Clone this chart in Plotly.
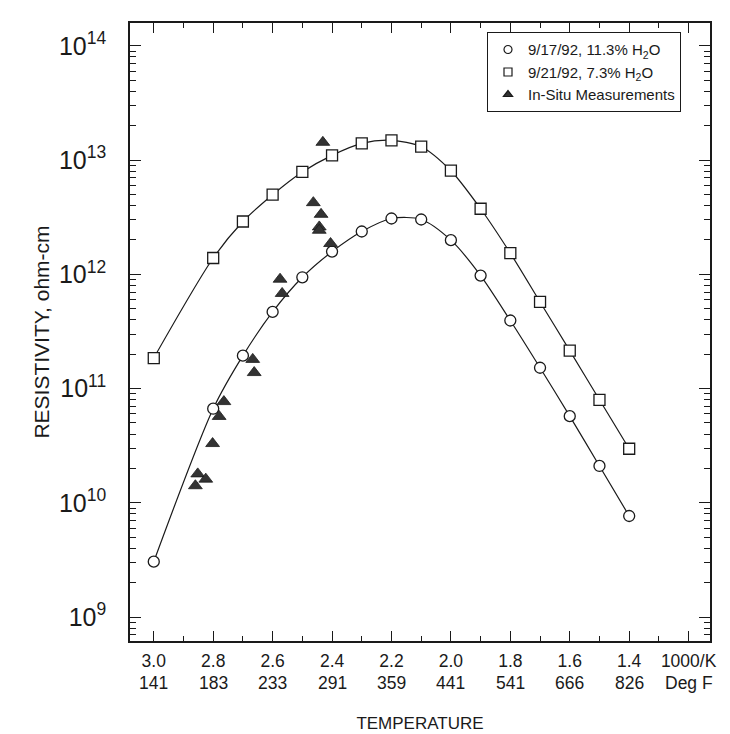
import plotly.graph_objects as go

# ---- data ----
inv_temp = [3.0, 2.8, 2.7, 2.6, 2.5, 2.4, 2.3, 2.2, 2.1, 2.0, 1.9, 1.8, 1.7, 1.6, 1.5, 1.4]
res_0917 = [3.05e9, 6.66e10, 1.94e11, 4.69e11, 9.42e11, 1.58e12, 2.37e12, 3.08e12,
            3.02e12, 1.99e12, 9.75e11, 3.94e11, 1.52e11, 5.73e10, 2.10e10, 7.66e9]
res_0921 = [1.85e11, 1.39e12, 2.90e12, 4.98e12, 7.87e12, 1.10e13, 1.40e13, 1.49e13,
            1.31e13, 8.07e12, 3.75e12, 1.53e12, 5.73e11, 2.15e11, 7.97e10, 2.97e10]
insitu_x = [2.431, 2.463, 2.437, 2.443, 2.443, 2.405, 2.575, 2.568, 2.667, 2.662,
            2.764, 2.780, 2.802, 2.852, 2.825, 2.860]
insitu_y = [1.43e13, 4.24e12, 3.35e12, 2.60e12, 2.43e12, 1.86e12, 9.06e11, 6.80e11,
            1.80e11, 1.38e11, 7.69e10, 5.70e10, 3.30e10, 1.79e10, 1.61e10, 1.41e10]

tick_vals = [3.0, 2.8, 2.6, 2.4, 2.2, 2.0, 1.8, 1.6, 1.4, 1.2]
tick_k = ["3.0", "2.8", "2.6", "2.4", "2.2", "2.0", "1.8", "1.6", "1.4", "1000/K"]
tick_f = ["141", "183", "233", "291", "359", "441", "541", "666", "826", "Deg F"]

names = ["9/17/92, 11.3% H<sub>2</sub>O", "9/21/92, 7.3% H<sub>2</sub>O", "In-Situ Measurements"]

INK = "#1a1a1a"
FONT = "Arial, Liberation Sans, sans-serif"

fig = go.Figure()

fig.add_trace(go.Scatter(
    x=inv_temp, y=res_0917, mode="lines+markers", showlegend=False,
    line=dict(color=INK, width=1.2, shape="spline", smoothing=0.8),
    marker=dict(symbol="circle", size=11, color="white", line=dict(color=INK, width=1.3)),
))
fig.add_trace(go.Scatter(
    x=inv_temp, y=res_0921, mode="lines+markers", showlegend=False,
    line=dict(color=INK, width=1.2, shape="spline", smoothing=0.8),
    marker=dict(symbol="square", size=11, color="white", line=dict(color=INK, width=1.3)),
))
fig.add_trace(go.Scatter(
    x=insitu_x, y=insitu_y, mode="markers", showlegend=False,
    marker=dict(symbol="triangle-up", size=12, color="#333333", line=dict(color=INK, width=0.8)),
))

# legend-only entries (marker symbols only)
for nm, sym, fill in zip(names, ["circle", "square", "triangle-up"], ["white", "white", "#333333"]):
    fig.add_trace(go.Scatter(
        x=[None], y=[None], mode="markers", name=nm,
        marker=dict(symbol=sym, size=8, color=fill, line=dict(color=INK, width=1.2)),
    ))

# second line of x tick labels (deg F)
for xv, txt in zip(tick_vals, tick_f):
    fig.add_annotation(
        x=xv, xref="x", y=0, yref="paper", yanchor="middle", yshift=-42,
        text=txt, showarrow=False, font=dict(family=FONT, size=17.5, color=INK),
    )

fig.update_layout(
    width=730, height=734,
    margin=dict(l=122, r=28, t=15, b=97),
    paper_bgcolor="white", plot_bgcolor="white",
    font=dict(family=FONT, color=INK, size=16),
    legend=dict(
        x=0.95, y=0.985, xanchor="right", yanchor="top",
        bordercolor=INK, borderwidth=1, bgcolor="white",
        font=dict(family=FONT, size=15, color=INK),
        itemwidth=30, tracegroupgap=0,
    ),
)

fig.update_xaxes(
    range=[3.08, 1.128], autorange=False,
    tickmode="array", tickvals=tick_vals, ticktext=tick_k,
    ticks="inside", ticklen=10, tickwidth=1.2, tickcolor=INK,
    minor=dict(ticks="inside", ticklen=5, tickwidth=1.2, tickcolor=INK, dtick=0.1, tick0=3.0, showgrid=False),
    showline=True, linecolor=INK, linewidth=1.5, mirror="allticks",
    showgrid=False, zeroline=False,
    tickfont=dict(family=FONT, size=17.5, color=INK),
    ticklabelstandoff=3,
    title=dict(text="TEMPERATURE", font=dict(family=FONT, size=17, color=INK), standoff=47),
)

fig.update_yaxes(
    type="log", range=[8.79, 14.2], autorange=False,
    dtick=1, exponentformat="power",
    ticks="inside", ticklen=11, tickwidth=1.2, tickcolor=INK,
    minor=dict(ticks="inside", ticklen=6, tickwidth=1.0, tickcolor=INK, dtick="D1", showgrid=False),
    showline=True, linecolor=INK, linewidth=1.5, mirror="allticks",
    showgrid=False, zeroline=False,
    tickfont=dict(family=FONT, size=20, color=INK),
    ticklabelstandoff=18,
    title=dict(text="RESISTIVITY, ohm-cm", font=dict(family=FONT, size=21, color=INK), standoff=4),
)

fig.write_html("out.html")
